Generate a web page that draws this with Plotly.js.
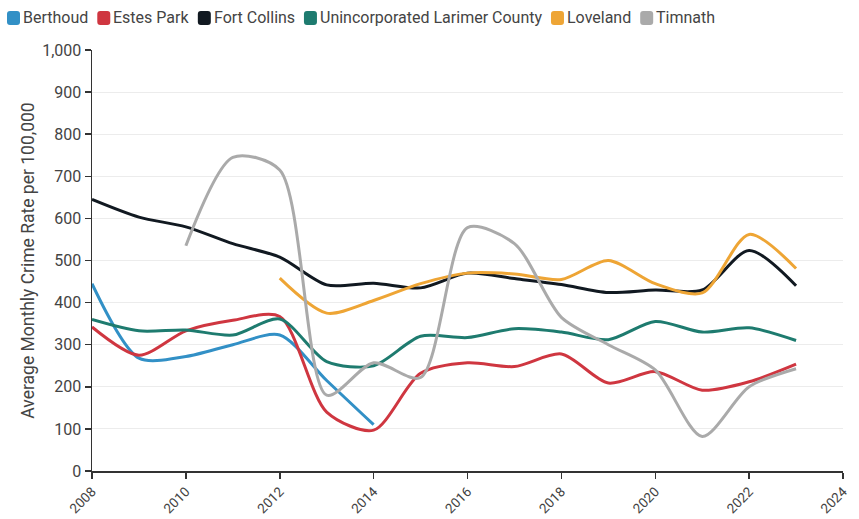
<!DOCTYPE html>
<html><head><meta charset="utf-8">
<script src="https://cdn.plot.ly/plotly-3.0.1.min.js"></script>
<style>html,body{margin:0;padding:0;background:#fff}#chart{width:859px;height:519px}</style>
</head><body><div id="chart"></div>
<script>
const years = [2008,2009,2010,2011,2012,2013,2014,2015,2016,2017,2018,2019,2020,2021,2022,2023];
const berthoud = [445,268,272,300,323,215,110,null,null,null,null,null,null,null,null,null];
const estesPark = [342,275,333,358,367,140,97,232,257,248,278,209,236,192,212,254];
const fortCollins = [645,603,580,540,508,442,446,435,470,457,443,424,430,430,524,440];
const unincorporated = [360,333,335,323,361,260,250,320,317,338,330,312,355,330,340,310];
const loveland = [null,null,null,null,458,375,405,445,470,468,455,500,445,423,562,481];
const timnath = [null,null,535,745,715,180,257,222,578,540,365,300,240,82,200,243];
const seriesNames = ["Berthoud","Estes Park","Fort Collins","Unincorporated Larimer County","Loveland","Timnath"];
const seriesValues = [berthoud, estesPark, fortCollins, unincorporated, loveland, timnath];
const colors = ["#3290C6","#CF3640","#111921","#1E7B6F","#EEA535","#AAAAAA"];
const xTicks = [2008,2010,2012,2014,2016,2018,2020,2022,2024];

const W = 859, H = 519, M = {l: 92, r: 16, t: 50, b: 48};
const pw = W - M.l - M.r, ph = H - M.t - M.b;
const px2x = p => (p - M.l) / pw;
const px2y = p => (H - M.b - p) / ph;

const traces = [];
seriesValues.forEach((vals, i) => {
  const xs = [], ys = [];
  vals.forEach((v, j) => { if (v !== null) { xs.push(years[j]); ys.push(v); } });
  traces.push({x: xs, y: ys, type: 'scatter', mode: 'lines', name: seriesNames[i],
    line: {color: colors[i], width: 3, shape: 'spline', smoothing: 0.8}, showlegend: false});
});

// custom legend (rounded swatches + text)
const ctx = document.createElement('canvas').getContext('2d');
ctx.font = '16px Roboto';
const shapes = [], annotations = [];
let cx = 7;
const sw = 13, sh = 14, legTop = 11, rad = 3;
seriesNames.forEach((n, i) => {
  const x0 = cx, x1 = cx + sw, y0 = legTop, y1 = legTop + sh;
  const X = px2x, Y = px2y;
  const path = `M ${X(x0 + rad)} ${Y(y0)} L ${X(x1 - rad)} ${Y(y0)} Q ${X(x1)} ${Y(y0)} ${X(x1)} ${Y(y0 + rad)} ` +
    `L ${X(x1)} ${Y(y1 - rad)} Q ${X(x1)} ${Y(y1)} ${X(x1 - rad)} ${Y(y1)} L ${X(x0 + rad)} ${Y(y1)} ` +
    `Q ${X(x0)} ${Y(y1)} ${X(x0)} ${Y(y1 - rad)} L ${X(x0)} ${Y(y0 + rad)} Q ${X(x0)} ${Y(y0)} ${X(x0 + rad)} ${Y(y0)} Z`;
  shapes.push({type: 'path', xref: 'paper', yref: 'paper', path: path, fillcolor: colors[i], line: {width: 0}, layer: 'above'});
  const tx = cx + sw + 2;
  annotations.push({xref: 'paper', yref: 'paper', x: px2x(tx), y: px2y(legTop + sh / 2), xanchor: 'left', yanchor: 'middle',
    text: n, showarrow: false, font: {size: 16, color: '#444', family: 'Roboto, sans-serif'}, borderpad: 0});
  const tw = ctx.measureText(n).width;
  cx = tx + tw + 10;
});

const layout = {
  width: W, height: H,
  margin: M,
  paper_bgcolor: '#fff', plot_bgcolor: '#fff',
  font: {family: 'Roboto, sans-serif', color: '#333', size: 15},
  showlegend: false,
  shapes: shapes, annotations: annotations,
  xaxis: {range: [2008, 2024], tickvals: xTicks, ticktext: xTicks.map(String), tickangle: -45,
    showgrid: false, zeroline: false, showline: true, linecolor: '#333', linewidth: 1.5,
    ticks: 'outside', ticklen: 6, tickcolor: '#333', tickwidth: 1.5, tickfont: {size: 13.5, color: '#444'}},
  yaxis: {range: [0, 1000], dtick: 100, tickformat: ',d', showgrid: true, gridcolor: '#ececec', gridwidth: 1,
    zeroline: false, showline: true, linecolor: '#333', linewidth: 1.5,
    ticks: 'outside', ticklen: 6, tickcolor: '#333', tickwidth: 1.5, tickfont: {size: 16, color: '#444'},
    title: {text: 'Average Monthly Crime Rate per 100,000', font: {size: 17.5, color: '#444'}, standoff: 3}}
};
Plotly.newPlot('chart', traces, layout, {displayModeBar: false, staticPlot: true});
</script></body></html>
